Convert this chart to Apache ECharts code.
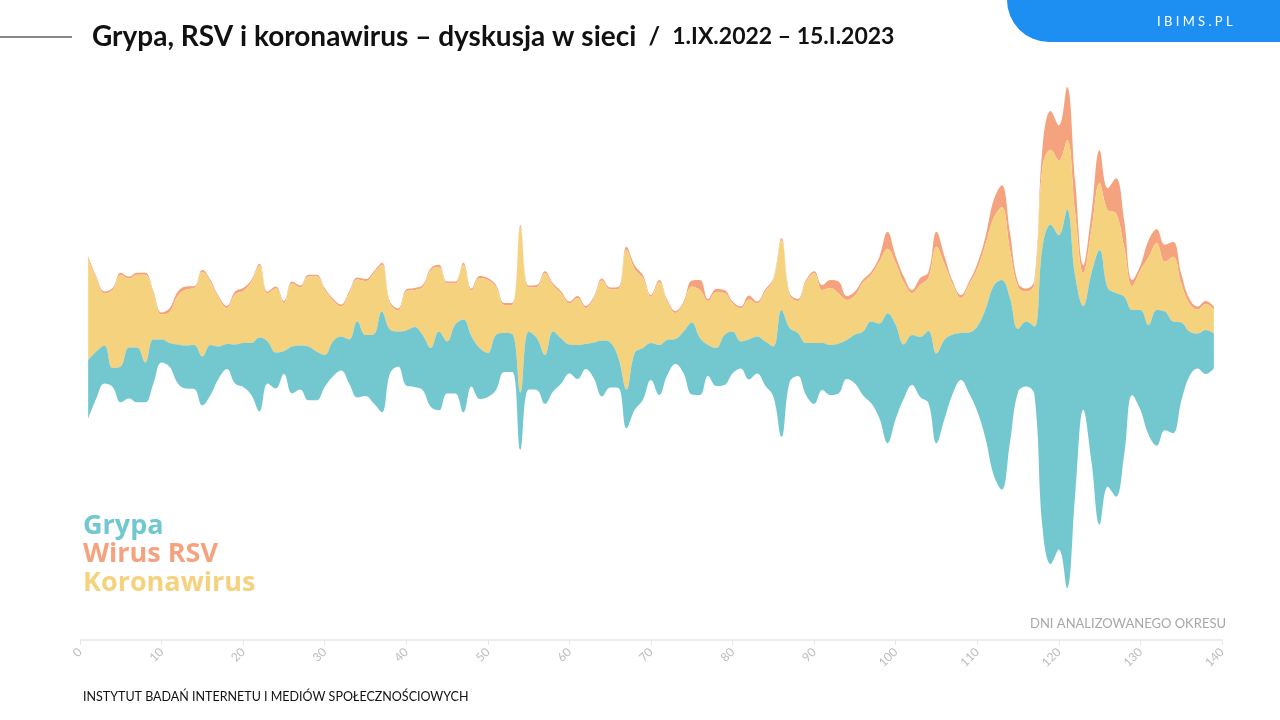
<!DOCTYPE html>
<html>
<head>
<meta charset="utf-8">
<script src="https://cdn.jsdelivr.net/npm/echarts@6/dist/echarts.min.js"></script>
<style>
html,body{margin:0;padding:0;background:#fff;}
#chart{width:1280px;height:720px;}
</style>
</head>
<body>
<div id="chart"></div>
<script>
// Day index of the analysed period (1.IX.2022 – 15.I.2023)
const days = [];
for (let d = 1; d <= 139; d++) days.push(d);

const rsv = [
  2,2,2,2,2,2,2,2,2,2,
  4,4,3,2,2,2,2,2,3,3,
  2,2,2,2,2,2,2,2,2,2,
  2,2,2,2,2,2,2,2,2,2,
  2,2,2,2,2,2,2,2,2,2,
  2,2,2,2,2,2,2,2,2,2,
  2,2,2,2,2,2,3,4,3,2,
  2,2,2,2,6,10,2,3,3,2,
  2,4,2,2,2,2,2,2,2,2,
  5,8,12,4,4,3,3,5,17,7,
  6,3,7,6,15,8,3,3,3,5,
  8,18,22,17,4,3,4,20,39,35,
  53,33,8,17,33,22,35,27,6,5,
  17,14,17,15,10,5,3,3,3
];

const koronawirus = [
  102,73,52,78,92,69,73,88,46,25,
  31,49,56,57,85,63,48,36,50,52,
  61,72,48,64,48,63,58,70,75,65,
  41,30,46,42,54,61,47,26,21,39,
  37,48,78,65,58,41,55,46,70,73,
  48,28,29,166,44,51,82,46,45,41,
  47,36,44,60,53,69,140,84,70,46,
  63,38,26,28,36,48,44,56,42,28,
  33,40,33,50,66,70,33,32,61,70,
  53,57,50,40,39,49,47,62,65,62,
  62,42,52,53,107,75,50,35,48,58,
  65,68,73,49,42,30,42,80,75,75,
  70,63,33,43,67,78,80,50,24,40,
  68,67,50,65,39,28,24,26,24
];

const grypa = [
  59,47,38,19,36,51,55,40,44,23,
  24,39,43,44,49,50,32,25,39,44,
  52,74,42,36,23,47,44,54,49,32,
  35,34,44,76,61,69,101,44,35,55,
  60,55,59,79,52,69,93,50,51,44,
  55,39,38,57,58,52,49,60,45,29,
  34,25,36,56,45,30,39,57,52,37,
  50,35,25,42,72,57,31,38,50,42,
  27,40,37,44,50,127,54,43,52,61,
  47,50,50,39,49,64,82,95,130,94,
  54,50,60,72,90,79,59,47,61,85,
  129,189,210,145,63,65,68,282,340,315,
  379,219,104,189,275,199,204,159,85,100,
  110,136,119,112,79,45,35,44,35
];

const axisTicks = [0,10,20,30,40,50,60,70,80,90,100,110,120,130,140];

const seriesNames = ['Wirus RSV', 'Koronawirus', 'Grypa'];
const colors = ['#F5A27E', '#F5D27D', '#73C8D0'];

const riverData = [];
days.forEach((d, i) => riverData.push([d, rsv[i], seriesNames[0]]));
days.forEach((d, i) => riverData.push([d, koronawirus[i], seriesNames[1]]));
days.forEach((d, i) => riverData.push([d, grypa[i], seriesNames[2]]));

const chart = echarts.init(document.getElementById('chart'));
chart.setOption({
  animation: false,
  color: colors,
  singleAxis: {
    type: 'value',
    left: 80,
    right: 58,
    top: 87,
    bottom: 80,
    min: axisTicks[0],
    max: axisTicks[axisTicks.length - 1],
    interval: 10,
    axisLine: { lineStyle: { color: '#e6e6e6', width: 1.5 } },
    axisTick: { show: true, length: 5, lineStyle: { color: '#e6e6e6' } },
    axisLabel: { rotate: 45, color: '#bdbdbd', fontSize: 12, fontFamily: 'Lato', margin: 10 },
    splitLine: { show: false }
  },
  series: [{
    type: 'themeRiver',
    boundaryGap: [0, 52],
    label: { show: false },
    emphasis: { disabled: true },
    itemStyle: { opacity: 1 },
    data: riverData
  }],
  graphic: [
    { type: 'line', shape: { x1: 0, y1: 37, x2: 72, y2: 37 }, style: { stroke: '#111', lineWidth: 1 } },
    {
      type: 'text', left: 92, top: 23,
      style: {
        text: '{a|Grypa, RSV i koronawirus – dyskusja w sieci}{b|  /  }{c|1.IX.2022 – 15.I.2023}',
        rich: {
          a: { fontFamily: 'Lato', fontWeight: 'bold', fontSize: 28, fill: '#111' },
          b: { fontFamily: 'Lato', fontWeight: 'bold', fontSize: 25, fill: '#111' },
          c: { fontFamily: 'Lato', fontWeight: 'bold', fontSize: 23, fill: '#111' }
        }
      }
    },
    { type: 'rect', shape: { x: 1007, y: 0, width: 273, height: 42, r: [0, 0, 0, 42] }, style: { fill: '#1E8FF2' } },
    { type: 'text', left: 1157, top: 15, style: { text: 'I B I M S . P L', fill: '#fff', fontSize: 13, fontFamily: 'Lato' } },
    { type: 'text', left: 83, top: 513, style: { text: 'Grypa', fill: colors[2], fontSize: 27, fontFamily: 'Open Sans', fontWeight: 'bold' } },
    { type: 'text', left: 83, top: 541, style: { text: 'Wirus RSV', fill: colors[0], fontSize: 27, fontFamily: 'Open Sans', fontWeight: 'bold' } },
    { type: 'text', left: 83, top: 570, style: { text: 'Koronawirus', fill: colors[1], fontSize: 27, fontFamily: 'Open Sans', fontWeight: 'bold' } },
    { type: 'text', right: 54, top: 617, style: { text: 'DNI ANALIZOWANEGO OKRESU', fill: '#a8a8a8', fontSize: 13, fontFamily: 'Lato' } },
    { type: 'text', left: 83, top: 690, style: { text: 'INSTYTUT BADAŃ INTERNETU I MEDIÓW SPOŁECZNOŚCIOWYCH', fill: '#111', fontSize: 12.5, fontFamily: 'Lato' } }
  ]
});
</script>
</body>
</html>
